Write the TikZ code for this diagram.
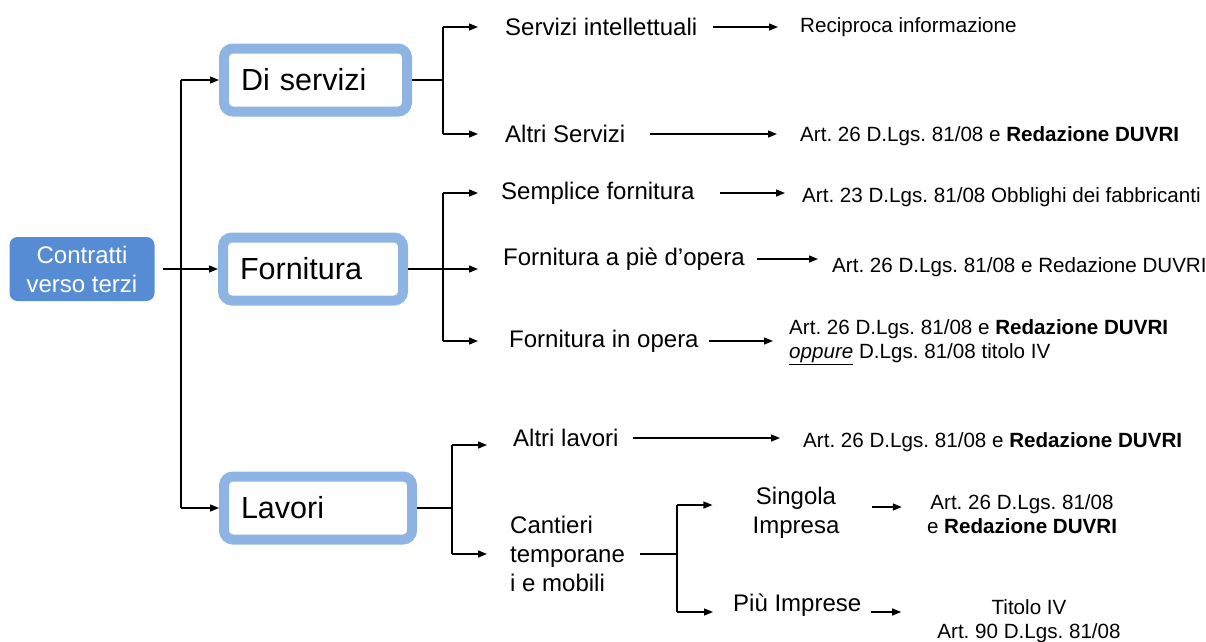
\documentclass[tikz,border=0pt]{standalone}
\usepackage{fontspec}
\setmainfont{Liberation Sans}
\usetikzlibrary{arrows.meta}
\definecolor{cblue}{RGB}{86,140,212}
\definecolor{lblue}{RGB}{141,180,226}
\frenchspacing
\begin{document}
\frenchspacing
\begin{tikzpicture}[x=1pt,y=-1pt,
 conn/.style={line width=1.4pt},
 arr/.style={conn,-{Triangle[length=9pt,width=7pt]}},
 cat/.style={draw=lblue,line width=10pt,fill=white,rounded corners=9pt,minimum height=63pt,inner xsep=17pt,align=left,font=\fontsize{30.5}{36}\selectfont},
 lbl/.style={inner sep=0pt,anchor=west,font=\fontsize{24}{29}\selectfont},
 refl/.style={inner sep=0pt,anchor=west,font=\fontsize{20.6}{24.5}\selectfont},
 refc/.style={inner sep=0pt,align=center,font=\fontsize{20.6}{24.5}\selectfont}]
\useasboundingbox (0,0) rectangle (1206,641);
% root
\node[fill=cblue,rounded corners=8pt,minimum width=145pt,minimum height=64pt,align=center,text=white,font=\fontsize{24}{29}\selectfont,inner sep=0pt] (ct) at (82,269) {Contratti\\verso terzi};
% categories
\node[cat,text width=149pt] (ds) at (315.5,80) {Di servizi};
\node[cat,text width=146pt] (fo) at (313,269) {Fornitura};
\node[cat,text width=154pt] (la) at (318,508) {Lavori};
% spine
\coordinate (sp) at (181,0);
\draw[conn] (sp |- ds.west) -- (sp |- la.west);
\draw[arr] (sp |- ds.west) -- (ds.west);
\draw[arr] (sp |- la.west) -- (la.west);
\draw[arr,shorten <=8pt] (ct.east) -- (fo.west);
% level 2 texts
\node[lbl] (s1) at (505,27) {Servizi intellettuali};
\node[lbl] (s2) at (505,134) {Altri Servizi};
\node[lbl] (f1) at (501,193) {Semplice fornitura};
\node[lbl] (f2) at (503,259) {Fornitura a piè d’opera};
\node[lbl] (f3) at (509,341) {Fornitura in opera};
\node[lbl] (l1) at (513,438) {Altri lavori};
\node[lbl,align=left] (l2) at (510,554) {Cantieri\\temporane\\i e mobili};
\node[inner sep=0pt,align=center,font=\fontsize{24}{29}\selectfont] (c1) at (796,513) {Singola\\Impresa};
\node[lbl] (c2) at (733,605) {Più Imprese};
% right texts
\node[refl] (r1) at (800,27) {Reciproca informazione};
\node[refl] (r2) at (800,136) {Art. 26 D.Lgs. 81/08 e \textbf{Redazione DUVRI}};
\node[refl] (r3) at (802,197) {Art. 23 D.Lgs. 81/08 Obblighi dei fabbricanti};
\node[refl] (r4) at (832,267) {Art. 26 D.Lgs. 81/08 e Redazione DUVRI};
\node[refl,align=left] (r5) at (789,342) {Art. 26 D.Lgs. 81/08 e \textbf{Redazione DUVRI}\\\underline{\textit{oppure}} D.Lgs. 81/08 titolo IV};
\node[refl] (r6) at (803,442) {Art. 26 D.Lgs. 81/08 e \textbf{Redazione DUVRI}};
\node[refc] (r7) at (1022,514) {Art. 26 D.Lgs. 81/08\\e \textbf{Redazione DUVRI}};
\node[refc] (r8) at (1029,621) {Titolo IV\\Art. 90 D.Lgs. 81/08};
% di servizi branch
\coordinate (b1) at (443,0);
\draw[conn] (ds.east) -- (ds.east -| b1);
\draw[conn] (b1 |- s1.west) -- (b1 |- s2.west);
\draw[arr,shorten >=27pt] (b1 |- s1.west) -- (s1.west);
\draw[arr,shorten >=27pt] (b1 |- s2.west) -- (s2.west);
% fornitura branch
\coordinate (b2) at (443,0);
\draw[conn] (b2 |- f1.west) -- (b2 |- f3.west);
\draw[arr,shorten >=23pt] (b2 |- f1.west) -- (f1.west);
\draw[arr,shorten >=25pt] (fo.east) -- (fo.east -| f2.west);
\draw[arr,shorten >=31pt] (b2 |- f3.west) -- (f3.west);
% lavori branch
\coordinate (a1) at (452,445);
\coordinate (a2) at (452,554);
\draw[conn] (la.east) -- (la.east -| a1);
\draw[conn] (a1) -- (a2);
\draw[arr,shorten >=26pt] (a1) -- (a1 -| l1.west);
\draw[arr,shorten >=23pt] (a2) -- (a2 -| l2.west);
% cantieri branch
\coordinate (k0) at (677,554);
\coordinate (k1) at (677,505);
\coordinate (k2) at (677,612);
\draw[conn,shorten <=15pt] (l2.east) -- (k0);
\draw[conn] (k1) -- (k2);
\draw[arr,shorten >=40pt] (k1) -- (k1 -| c1.west);
\draw[arr,shorten >=20pt] (k2) -- (k2 -| c2.west);
% arrows to references
\draw[arr,shorten <=16pt,shorten >=22pt] (s1.east) -- (s1.east -| r1.west);
\draw[arr,shorten <=25pt,shorten >=23pt] (s2.east) -- (s2.east -| r2.west);
\draw[arr,shorten <=25pt,shorten >=17pt] (f1.east) -- (f1.east -| r3.west);
\draw[arr,shorten <=12pt,shorten >=14pt] (f2.east) -- (f2.east -| r4.west);
\draw[arr,shorten <=10pt,shorten >=16pt] (f3.east) -- (f3.east -| r5.west);
\draw[arr,shorten <=14pt,shorten >=23pt] (l1.east) -- (l1.east -| r6.west);
\draw[arr,shorten <=32pt,shorten >=25pt] ([yshift=6pt]c1.east) -- ([yshift=6pt]c1.east -| r7.west);
\draw[arr,shorten <=10pt,shorten >=36pt] ([yshift=-7pt]c2.east) -- ([yshift=-7pt]c2.east -| r8.west);
\end{tikzpicture}
\end{document}
